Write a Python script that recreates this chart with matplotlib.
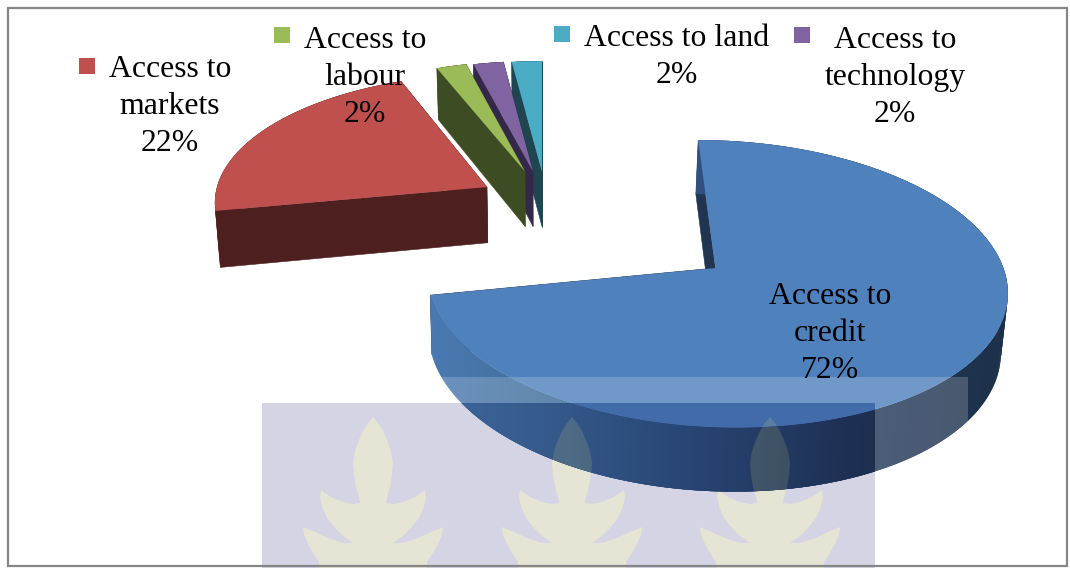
import numpy as np
import matplotlib
matplotlib.use('Agg')
import matplotlib.pyplot as plt
from matplotlib.collections import PolyCollection
from matplotlib.colors import to_rgb
from matplotlib.patches import PathPatch, Polygon, Rectangle
from matplotlib.path import Path

# Chart data, clockwise from 12 o'clock
categories = ['Access to credit', 'Access to markets', 'Access to labour',
              'Access to technology', 'Access to land']
values = [72, 22, 2, 2, 2]
label_lines = [['Access to', 'credit'], ['Access to', 'markets'], ['Access to', 'labour'],
               ['Access to', 'technology'], ['Access to land']]

# Colours
top_colors = ['#4f81bd', '#c0504d', '#9bbb59', '#8064a2', '#4bacc6']
wall_colors = ['#1f3550', '#4d1f1e', '#3e4c24', '#33284a', '#1e4550']
grad_x = [430, 520, 700, 850, 1010]
grad_colors = ['#4a79b2', '#42709f', '#2f5180', '#233a5c', '#1c3049']
LAVENDER = '#d4d4e4'
tint = np.array(to_rgb(LAVENDER))

# Layout in image pixels
plt.rcParams['font.family'] = ['Liberation Serif', 'DejaVu Serif']
FONT_PT = 22.9
LINE_H = 36.8
explode_w = [0.602, -0.204, -0.064, -0.034, 0.0]
explode_z = [0.0, 0.608, 0.735, 0.735, 0.735]
label_x = [830, 170, 365, 895, 677]
label_y = [304, 77, 48, 48, 46]
key_x = [None, 79, 274, 794, 554]
key_y = [None, 58, 27, 27, 26]
KEY = 16
XC, Y0 = 542, 268
RX, RY, K = 288, 142, 0.11


def project(w, z):
    p = 1 / (1 + K * z)
    return XC + RX * w * p, Y0 - RY * z * p


def lower(x, y):
    # bottom face of the slab: shifted down, pulled a little toward the middle
    return XC + (x - XC) * 0.985, y + 58.5 + 0.035 * (y - Y0)


def slice_outline(i):
    frac = np.cumsum([0] + values) / sum(values) * 2 * np.pi
    th = np.linspace(frac[i], frac[i + 1], max(int(values[i] * 4), 6))
    w = explode_w[i] + np.sin(th)
    z = explode_z[i] + np.cos(th)
    ax_, ay_ = project(w, z)
    vx, vy = project(explode_w[i], explode_z[i])
    return vx, vy, ax_, ay_


def grad(x):
    rgb = np.array([to_rgb(c) for c in grad_colors])
    return [np.interp(x, grad_x, rgb[:, n]) for n in range(3)]


def draw_slice(ax, i, shade=None, clip=None):
    mul = np.ones(3) if shade is None else shade
    vx, vy, ax_, ay_ = slice_outline(i)
    lx, ly = lower(ax_, ay_)
    lvx, lvy = lower(vx, vy)
    wall = np.array(to_rgb(wall_colors[i])) * mul
    artists = []
    # the two flat cut faces
    for n in (-1, 0):
        artists.append(Polygon([(vx, vy), (ax_[n], ay_[n]), (lx[n], ly[n]), (lvx, lvy)],
                               fc=wall, ec=wall, lw=0.4))
    # curved rim in overlapping strips, so that it can carry the gradient without seams
    quads, cols = [], []
    last = len(ax_) - 1
    for n in range(last):
        m = min(n + 2, last)
        quads.append([(ax_[n], ay_[n]), (ax_[m], ay_[m]), (lx[m], ly[m]), (lx[n], ly[n])])
        col = np.array(grad((ax_[n] + ax_[n + 1]) / 2)) if i == 0 else np.array(to_rgb(wall_colors[i]))
        cols.append(col * mul)
    rim = PolyCollection(quads, facecolors=cols, edgecolors='none')
    top = Polygon(np.column_stack([np.r_[vx, ax_], np.r_[vy, ay_]]),
                  fc=np.array(to_rgb(top_colors[i])) * mul, ec='none')
    for art in artists + [rim, top]:
        ax.add_artist(art)
        if clip is not None:
            art.set_clip_path(clip)


def leaf_outline(cx):
    dx = [0, 5, 10, 14, 18, 20, 19, 17, 14, 13, 20, 30, 42, 52, 53, 51, 46, 38, 30, 20,
          30, 45, 58, 70, 69, 65, 60, 54, 53]
    yy = [417, 423, 431, 440, 451, 463, 475, 487, 497, 503, 504, 502, 497, 490, 497, 507, 518, 528, 536, 543,
          543, 538, 532, 527, 535, 544, 553, 562, 575]
    xs = [cx + d for d in dx] + [cx - d for d in dx[::-1]]
    return list(zip(xs, yy + yy[::-1]))


fig = plt.figure(figsize=(10.7, 5.68), dpi=100)
ax = fig.add_axes([0, 0, 1, 1])
ax.set_xlim(0, 1070)
ax.set_ylim(568, 0)
ax.axis('off')

# watermark behind the chart
mark_rect = (262, 403, 613, 170)
ax.add_patch(Rectangle(mark_rect[:2], mark_rect[2], mark_rect[3], fc=LAVENDER, ec='none'))
leaf_x = [373, 572, 770]
for cx in leaf_x:
    ax.add_patch(Polygon(leaf_outline(cx), fc='#e6e4d4', ec='none'))

# far slices first so the nearer ones sit over them
for i in [4, 3, 2, 1, 0]:
    draw_slice(ax, i)

# pale band of the watermark, over the pie
ax.add_patch(Rectangle((262, 377), 706, 26, fc='white', ec='none', alpha=0.19))
ax.add_patch(Rectangle((875, 403), 93, 170, fc='white', ec='none', alpha=0.19))

# inside the lavender block the pie is multiplied by it
clip_rect = Rectangle(mark_rect[:2], mark_rect[2], mark_rect[3], transform=ax.transData)
draw_slice(ax, 0, shade=tint, clip=clip_rect)

# leaves showing through the pie
vx, vy, bx, by = slice_outline(0)
lbx, lby = lower(bx, by)
top_path = Path(np.column_stack([np.r_[vx, bx, vx], np.r_[vy, by, vy]]), closed=True)
rim_path = Path(np.column_stack([np.r_[bx, lbx[::-1], bx[0]], np.r_[by, lby[::-1], by[0]]]), closed=True)
pie_path = Path.make_compound_path(top_path, rim_path)
for cx in leaf_x:
    leaf = Polygon(leaf_outline(cx), fc='#e6e480', ec='none', alpha=0.15)
    ax.add_patch(leaf)
    leaf.set_clip_path(PathPatch(pie_path, transform=ax.transData))

# labels with legend keys
for i, lines in enumerate(label_lines):
    all_lines = lines + [f'{values[i]}%']
    for j, line in enumerate(all_lines):
        ax.text(label_x[i], label_y[i] + j * LINE_H, line, fontsize=FONT_PT, color='black',
                ha='center', va='baseline')
    if key_x[i] is not None:
        ax.add_patch(Rectangle((key_x[i], key_y[i]), KEY, KEY, fc=top_colors[i], ec='none'))

# chart frame
ax.add_patch(Rectangle((8, 8), 1059, 558, fill=False, ec='#868686', lw=1.6))

fig.savefig('out.png', dpi=100)
